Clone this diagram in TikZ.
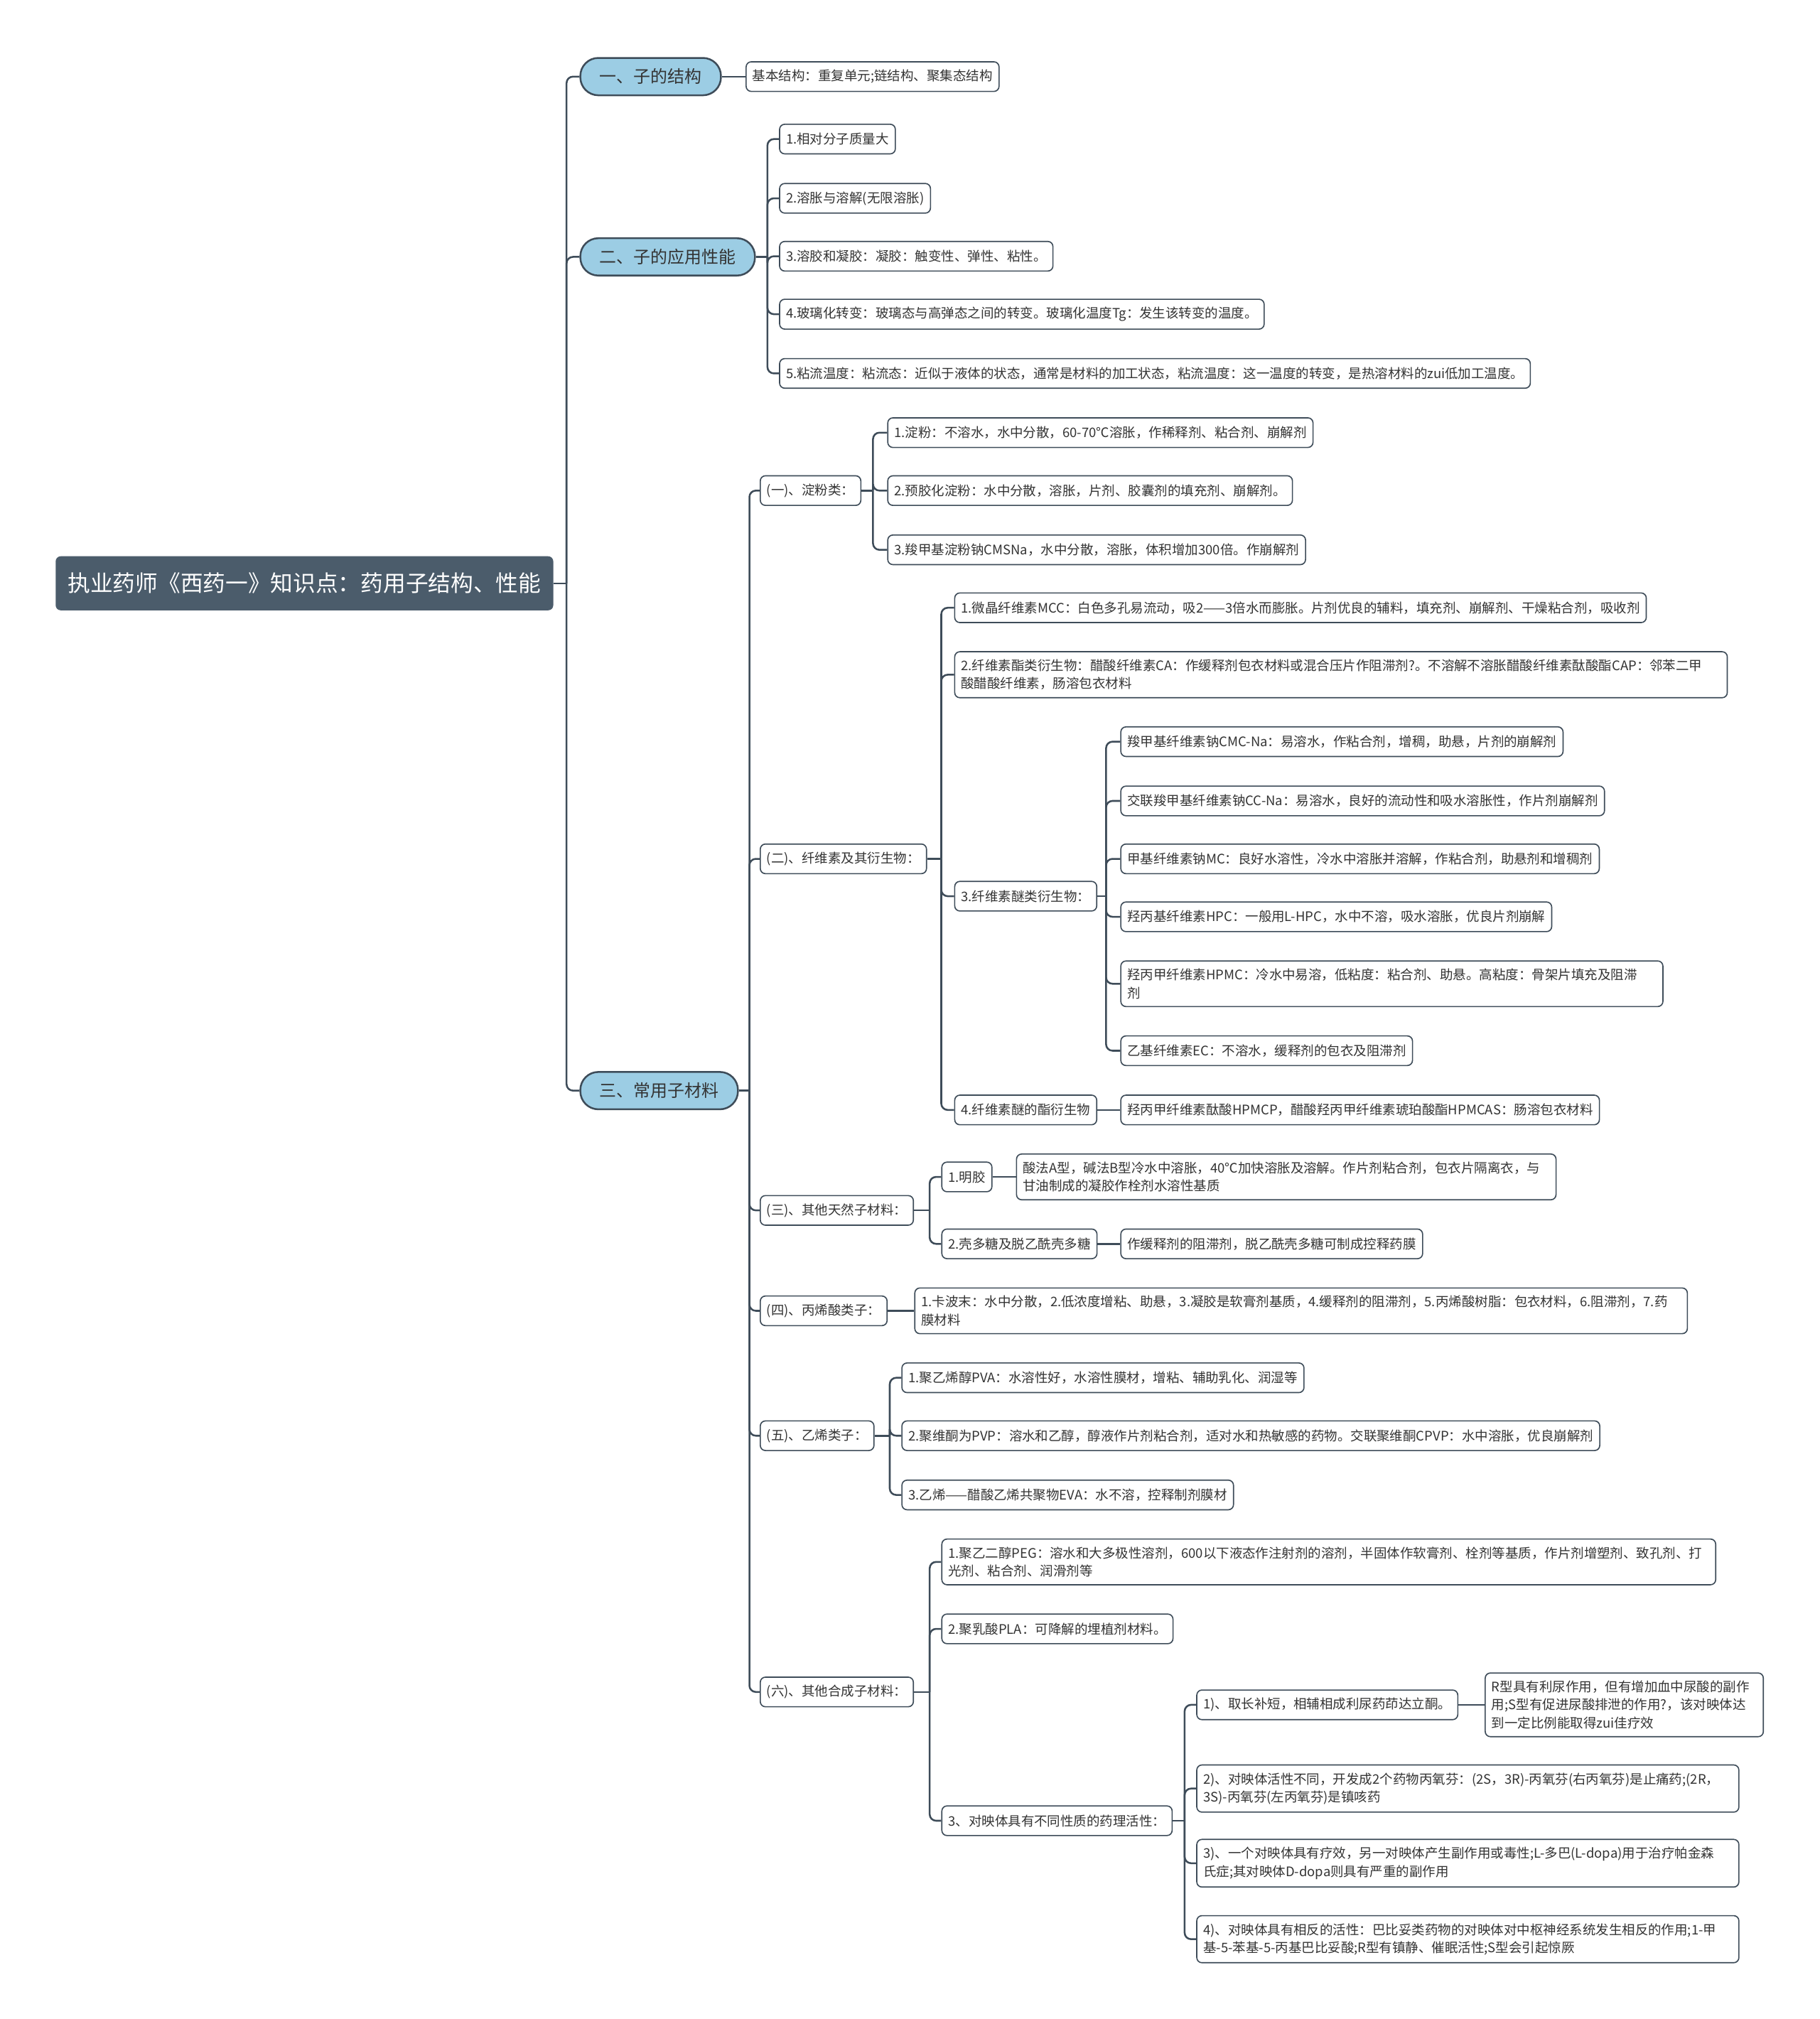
\documentclass[tikz,border=0pt]{standalone}
\usepackage{fontspec}
\setmainfont{Noto Sans CJK SC}
\usetikzlibrary{positioning}
\definecolor{mmline}{HTML}{3E4C59}
\definecolor{mmroot}{HTML}{4B5C6B}
\definecolor{mmblue}{HTML}{9CCDE4}
\definecolor{mmtext}{HTML}{333333}
\newcommand{\rootfont}{\fontsize{17.5}{21}\selectfont}
\newcommand{\topicfont}{\fontsize{13.2}{16}\selectfont}
\newcommand{\leaffont}{\fontsize{10.2}{14}\selectfont}
\tikzset{
  rootnode/.style={fill=mmroot, text=white, rounded corners=4pt, minimum height=42pt, inner xsep=9.5pt, font=\rootfont, anchor=west},
  topic/.style={draw=mmline, line width=1.4pt, fill=mmblue, text=mmtext, rounded corners=14pt, minimum height=29pt, inner xsep=15pt, font=\topicfont, anchor=west},
  leaf/.style={draw=mmline, line width=0.9pt, fill=white, text=mmtext, rounded corners=4pt, minimum height=23pt, inner xsep=5pt, inner ysep=6pt, align=left, font=\leaffont, anchor=west},
  link/.style={mmline, line width=1.4pt, rounded corners=5pt},
}

\begin{document}
\begin{tikzpicture}[x=1pt,y=-1pt]
\useasboundingbox (0,0) rectangle (1413,1568);

% root and main branches
\node[rootnode] (root) at (43,453) {执业药师《西药一》知识点：药用子结构、性能};
\node[topic] (n1) at (450,59.5) {一、子的结构};
\node[topic] (n2) at (450,199.5) {二、子的应用性能};
\node[topic] (n3) at (450,847) {三、常用子材料};

% branch one
\node[leaf] (a1) at (579,59.5) {基本结构：重复单元;链结构、聚集态结构};

% branch two
\node[leaf] (b1) at (605,108) {1.相对分子质量大};
\node[leaf] (b2) at (605,154) {2.溶胀与溶解(无限溶胀)};
\node[leaf] (b3) at (605,199) {3.溶胶和凝胶：凝胶：触变性、弹性、粘性。};
\node[leaf] (b4) at (605,244) {4.玻璃化转变：玻璃态与高弹态之间的转变。玻璃化温度Tg：发生该转变的温度。};
\node[leaf] (b5) at (605,290) {5.粘流温度：粘流态：近似于液体的状态，通常是材料的加工状态，粘流温度：这一温度的转变，是热溶材料的zui低加工温度。};

% branch three
\node[leaf] (c1) at (590,381) {(一)、淀粉类：};
\node[leaf] (c1a) at (689,336) {1.淀粉：不溶水，水中分散，60-70℃溶胀，作稀释剂、粘合剂、崩解剂};
\node[leaf] (c1b) at (689,381) {2.预胶化淀粉：水中分散，溶胀，片剂、胶囊剂的填充剂、崩解剂。};
\node[leaf] (c1c) at (689,427) {3.羧甲基淀粉钠CMSNa，水中分散，溶胀，体积增加300倍。作崩解剂};

\node[leaf] (c2) at (590,667) {(二)、纤维素及其衍生物：};
\node[leaf] (c2a) at (741,472) {1.微晶纤维素MCC：白色多孔易流动，吸2——3倍水而膨胀。片剂优良的辅料，填充剂、崩解剂、干燥粘合剂，吸收剂};
\node[leaf, text width=590pt] (c2b) at (741,524) {2.纤维素酯类衍生物：醋酸纤维素CA：作缓释剂包衣材料或混合压片作阻滞剂?。不溶解不溶胀醋酸纤维素酞酸酯CAP：邻苯二甲\\酸醋酸纤维素，肠溶包衣材料};
\node[leaf] (c2c) at (741,696) {3.纤维素醚类衍生物：};
\node[leaf] (c2c1) at (870,576) {羧甲基纤维素钠CMC-Na：易溶水，作粘合剂，增稠，助悬，片剂的崩解剂};
\node[leaf] (c2c2) at (870,622) {交联羧甲基纤维素钠CC-Na：易溶水，良好的流动性和吸水溶胀性，作片剂崩解剂};
\node[leaf] (c2c3) at (870,667) {甲基纤维素钠MC：良好水溶性，冷水中溶胀并溶解，作粘合剂，助悬剂和增稠剂};
\node[leaf] (c2c4) at (870,712) {羟丙基纤维素HPC：一般用L-HPC，水中不溶，吸水溶胀，优良片剂崩解};
\node[leaf, text width=411pt] (c2c5) at (870,764) {羟丙甲纤维素HPMC：冷水中易溶，低粘度：粘合剂、助悬。高粘度：骨架片填充及阻滞\\剂};
\node[leaf] (c2c6) at (870,816) {乙基纤维素EC：不溶水，缓释剂的包衣及阻滞剂};
\node[leaf] (c2d) at (741,862) {4.纤维素醚的酯衍生物};
\node[leaf] (c2d1) at (870,862) {羟丙甲纤维素酞酸HPMCP，醋酸羟丙甲纤维素琥珀酸酯HPMCAS：肠溶包衣材料};

\node[leaf] (c3) at (590,940) {(三)、其他天然子材料：};
\node[leaf] (c3a) at (731,914) {1.明胶};
\node[leaf, text width=409pt] (c3a1) at (789,914) {酸法A型，碱法B型冷水中溶胀，40℃加快溶胀及溶解。作片剂粘合剂，包衣片隔离衣，与\\甘油制成的凝胶作栓剂水溶性基质};
\node[leaf] (c3b) at (731,966) {2.壳多糖及脱乙酰壳多糖};
\node[leaf] (c3b1) at (870,966) {作缓释剂的阻滞剂，脱乙酰壳多糖可制成控释药膜};

\node[leaf] (c4) at (590,1018) {(四)、丙烯酸类子：};
\node[leaf, text width=590pt] (c4a) at (710,1018) {1.卡波末：水中分散，2.低浓度增粘、助悬，3.凝胶是软膏剂基质，4.缓释剂的阻滞剂，5.丙烯酸树脂：包衣材料，6.阻滞剂，7.药\\膜材料};

\node[leaf] (c5) at (590,1115) {(五)、乙烯类子：};
\node[leaf] (c5a) at (700,1070) {1.聚乙烯醇PVA：水溶性好，水溶性膜材，增粘、辅助乳化、润湿等};
\node[leaf] (c5b) at (700,1115) {2.聚维酮为PVP：溶水和乙醇，醇液作片剂粘合剂，适对水和热敏感的药物。交联聚维酮CPVP：水中溶胀，优良崩解剂};
\node[leaf] (c5c) at (700,1161) {3.乙烯——醋酸乙烯共聚物EVA：水不溶，控释制剂膜材};

\node[leaf] (c6) at (590,1314) {(六)、其他合成子材料：};
\node[leaf, text width=591pt] (c6a) at (731,1213) {1.聚乙二醇PEG：溶水和大多极性溶剂，600以下液态作注射剂的溶剂，半固体作软膏剂、栓剂等基质，作片剂增塑剂、致孔剂、打\\光剂、粘合剂、润滑剂等};
\node[leaf] (c6b) at (731,1265) {2.聚乳酸PLA：可降解的埋植剂材料。};
\node[leaf] (c6c) at (731,1414) {3、对映体具有不同性质的药理活性：};
\node[leaf] (c6c1) at (929,1324) {1)、取长补短，相辅相成利尿药茚达立酮。};
\node[leaf, text width=206pt] (c6c1a) at (1153,1324) {R型具有利尿作用，但有增加血中尿酸的副作\\用;S型有促进尿酸排泄的作用?，该对映体达\\到一定比例能取得zui佳疗效};
\node[leaf, text width=411pt] (c6c2) at (929,1389) {2)、对映体活性不同，开发成2个药物丙氧芬：(2S，3R)-丙氧芬(右丙氧芬)是止痛药;(2R，\\3S)-丙氧芬(左丙氧芬)是镇咳药};
\node[leaf, text width=411pt] (c6c3) at (929,1447) {3)、一个对映体具有疗效，另一对映体产生副作用或毒性;L-多巴(L-dopa)用于治疗帕金森\\氏症;其对映体D-dopa则具有严重的副作用};
\node[leaf, text width=411pt] (c6c4) at (929,1506) {4)、对映体具有相反的活性：巴比妥类药物的对映体对中枢神经系统发生相反的作用;1-甲\\基-5-苯基-5-丙基巴比妥酸;R型有镇静、催眠活性;S型会引起惊厥};

% junctions
\coordinate (j0) at (440,453);
\coordinate (j2) at (596,199.5);
\coordinate (j3) at (582,847);
\coordinate (jc1) at (678,381);
\coordinate (jc2) at (731,667);
\coordinate (jc2c) at (859,696);
\coordinate (jc3) at (722,940);
\coordinate (jc5) at (691,1115);
\coordinate (jc6) at (722,1314);
\coordinate (jc6c) at (920,1414);

% connectors
\draw[link] (root) -- (j0);
\foreach \c in {n1,n2,n3} \draw[link] (j0) |- (\c.west);
\draw[link] (n1.east) -- (a1.west);
\draw[link] (n2) -- (j2);
\foreach \c in {b1,b2,b3,b4,b5} \draw[link] (j2) |- (\c.west);
\draw[link] (n3) -- (j3);
\foreach \c in {c1,c2,c3,c4,c5,c6} \draw[link] (j3) |- (\c.west);
\draw[link] (c1) -- (jc1);
\foreach \c in {c1a,c1b,c1c} \draw[link] (jc1) |- (\c.west);
\draw[link] (c2) -- (jc2);
\foreach \c in {c2a,c2b,c2c,c2d} \draw[link] (jc2) |- (\c.west);
\draw[link] (c2c) -- (jc2c);
\foreach \c in {c2c1,c2c2,c2c3,c2c4,c2c5,c2c6} \draw[link] (jc2c) |- (\c.west);
\draw[link] (c2d.east) -- (c2d1.west);
\draw[link] (c3) -- (jc3);
\foreach \c in {c3a,c3b} \draw[link] (jc3) |- (\c.west);
\draw[link] (c3a.east) -- (c3a1.west);
\draw[link] (c3b.east) -- (c3b1.west);
\draw[link] (c4.east) -- (c4a.west);
\draw[link] (c5) -- (jc5);
\foreach \c in {c5a,c5b,c5c} \draw[link] (jc5) |- (\c.west);
\draw[link] (c6) -- (jc6);
\foreach \c in {c6a,c6b,c6c} \draw[link] (jc6) |- (\c.west);
\draw[link] (c6c) -- (jc6c);
\foreach \c in {c6c1,c6c2,c6c3,c6c4} \draw[link] (jc6c) |- (\c.west);
\draw[link] (c6c1.east) -- (c6c1a.west);
\end{tikzpicture}
\end{document}
